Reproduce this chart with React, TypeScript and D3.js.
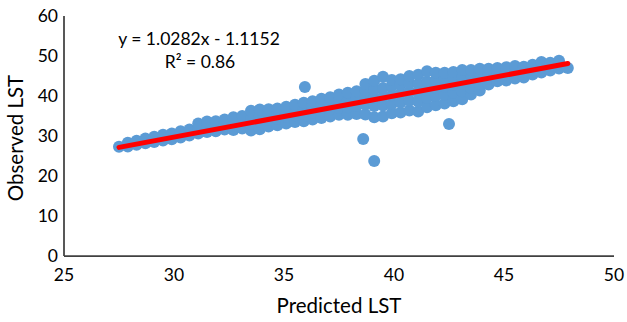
import React from 'react';
import * as d3 from 'd3';

const columns: [number, number[]][] = [
  [27.5, [27.3]],
  [27.9, [27.4, 28.3]],
  [28.3, [27.8, 28.8]],
  [28.7, [28.2, 29.4]],
  [29.1, [28.5, 29.8]],
  [29.5, [28.9, 30.3]],
  [29.9, [29.2, 30.6]],
  [30.3, [29.6, 31.2]],
  [30.7, [30.1, 31.6]],
  [31.1, [30.6, 32.0, 33.1]],
  [31.5, [31.0, 32.3, 33.6]],
  [31.9, [31.2, 32.5, 33.7]],
  [32.3, [31.6, 33.0, 34.1]],
  [32.7, [31.5, 33.2, 34.7]],
  [33.1, [31.9, 33.5, 35.0]],
  [33.5, [31.4, 33.0, 34.5, 36.3]],
  [33.9, [31.7, 33.5, 35.0, 36.6]],
  [34.3, [32.4, 34.0, 35.5, 36.7]],
  [34.7, [32.7, 34.3, 35.8, 36.9]],
  [35.1, [33.1, 34.8, 36.2, 37.3]],
  [35.5, [33.5, 35.2, 36.6, 37.8]],
  [35.9, [33.7, 35.5, 37.0, 38.3]],
  [36.3, [34.1, 35.8, 37.4, 38.7]],
  [36.7, [34.5, 36.2, 37.8, 39.3]],
  [37.1, [34.9, 36.6, 38.2, 39.7]],
  [37.5, [35.3, 37.0, 38.6, 40.4]],
  [37.9, [35.3, 37.2, 39.0, 40.8]],
  [38.3, [35.5, 37.5, 39.3, 41.2]],
  [38.7, [35.4, 37.8, 39.6, 41.5, 43.0]],
  [39.1, [34.7, 37.5, 39.5, 41.6, 43.8]],
  [39.5, [34.9, 37.6, 39.8, 42.0, 44.8]],
  [39.9, [35.7, 38.0, 40.2, 42.5, 44.0]],
  [40.3, [35.9, 38.4, 40.6, 42.8, 44.2]],
  [40.7, [36.4, 38.8, 41.0, 43.2, 45.0]],
  [41.1, [36.1, 38.6, 40.8, 43.0, 45.3]],
  [41.5, [37.2, 39.5, 41.5, 43.6, 46.2]],
  [41.9, [37.7, 40.0, 42.0, 44.0, 45.8]],
  [42.3, [38.1, 40.3, 42.4, 44.3, 45.8]],
  [42.7, [38.7, 40.8, 42.8, 44.6, 46.0]],
  [43.1, [39.2, 41.2, 43.0, 44.8, 46.5]],
  [43.5, [40.4, 42.0, 43.5, 45.2, 46.5]],
  [43.9, [41.4, 43.0, 44.3, 45.8, 46.8]],
  [44.3, [42.9, 44.3, 45.5, 46.8]],
  [44.7, [43.7, 45.0, 46.2, 47.0]],
  [45.1, [43.9, 45.3, 46.5, 47.2]],
  [45.5, [44.4, 45.8, 46.8, 47.5]],
  [45.9, [44.6, 46.0, 47.3]],
  [46.3, [45.4, 46.6, 47.8]],
  [46.7, [45.9, 47.0, 48.5]],
  [47.1, [46.4, 47.5, 48.3]],
  [47.5, [46.9, 48.0, 48.8]],
  [47.9, [47.0]],
];

const outliers: [number, number][] = [
  [35.95, 42.25],
  [38.6, 29.25],
  [39.1, 23.75],
  [42.5, 33.0],
];

const xTicks = [25, 30, 35, 40, 45, 50];
const yTicks = [0, 10, 20, 30, 40, 50, 60];

const slope = 1.0282;
const intercept = -1.1152;
const fitRange = [27.5, 47.9];

const equation = 'y = 1.0282x - 1.1152';
const rSquared = 'R² = 0.86';

const W = 627;
const H = 322;
const margin = { top: 16, right: 13, bottom: 66, left: 64 };
const font = 'Lato, "Open Sans", sans-serif';

export default function App() {
  const x = d3.scaleLinear().domain([25, 50]).range([margin.left, W - margin.right]);
  const y = d3.scaleLinear().domain([0, 60]).range([H - margin.bottom, margin.top]);

  const points: [number, number][] = [];
  columns.forEach(([px, ys]) => ys.forEach((py) => points.push([px, py])));
  outliers.forEach((p) => points.push(p));

  const fitLine = d3
    .line<number>()
    .x((d) => x(d))
    .y((d) => y(slope * d + intercept));

  const axisColor = '#404040';

  return (
    <svg width={W} height={H} style={{ position: 'absolute', left: 0, top: 0, background: '#fff' }}>
      {points.map((d, i) => (
        <circle key={i} cx={x(d[0])} cy={y(d[1])} r={6} fill="#5B9BD5" />
      ))}
      <path d={fitLine(fitRange) || ''} stroke="#FF0000" strokeWidth={5} strokeLinecap="round" fill="none" />

      {/* axes */}
      <line x1={x(25)} x2={x(50)} y1={y(0)} y2={y(0)} stroke={axisColor} strokeWidth={1.75} />
      <line x1={x(25)} x2={x(25)} y1={y(0)} y2={y(60)} stroke={axisColor} strokeWidth={1.75} />

      {xTicks.map((t) => (
        <text key={t} x={x(t)} y={281} textAnchor="middle" fontFamily={font} fontSize={17.5} fill="#000">
          {t}
        </text>
      ))}
      {yTicks.map((t) => (
        <text key={t} x={58} y={y(t)} dy="0.35em" textAnchor="end" fontFamily={font} fontSize={17.5} fill="#000">
          {t}
        </text>
      ))}

      <text x={339} y={313} textAnchor="middle" fontFamily={font} fontSize={20.5} fill="#000">
        Predicted LST
      </text>
      <text
        transform={`translate(23, ${y(30) + 2}) rotate(-90)`}
        textAnchor="middle"
        fontFamily={font}
        fontSize={20.5}
        fill="#000"
      >
        Observed LST
      </text>

      <text x={199} y={45} textAnchor="middle" fontFamily={font} fontSize={17.5} fill="#000">
        {equation}
      </text>
      <text x={200} y={68} textAnchor="middle" fontFamily={font} fontSize={17.5} fill="#000">
        {rSquared}
      </text>
    </svg>
  );
}
